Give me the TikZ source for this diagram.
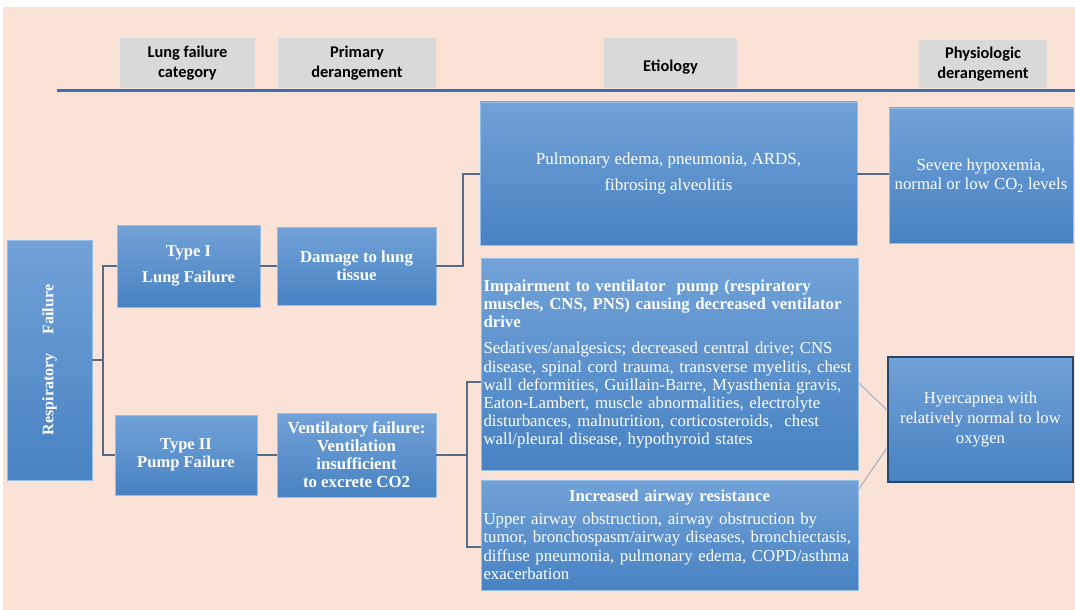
\documentclass[tikz,border=0pt]{standalone}
\usepackage{fontspec}
\setmainfont{Liberation Serif}
\newfontfamily\hdrfont{Carlito}
\usetikzlibrary{shadows}

\definecolor{bgpeach}{RGB}{250,227,214}
\definecolor{hdrgray}{RGB}{217,217,217}
\definecolor{rulecol}{RGB}{61,112,178}
\definecolor{boxtop}{RGB}{113,162,216}
\definecolor{boxbot}{RGB}{72,130,194}
\definecolor{boxedge}{RGB}{150,190,230}
\definecolor{darkedge}{RGB}{40,70,108}
\definecolor{linkcol}{RGB}{84,108,138}
\definecolor{faint}{RGB}{165,178,196}

\tikzset{
  hdr/.style={fill=hdrgray, align=center, inner sep=0pt,
              font=\hdrfont\bfseries\fontsize{12.3}{15}\selectfont},
  bbox/.style={draw=boxedge, line width=0.6pt, top color=boxtop, bottom color=boxbot,
               text=white, align=center, inner sep=2pt,
               drop shadow={opacity=0.25, shadow xshift=1pt, shadow yshift=-1pt},
               font=\bfseries\fontsize{12.6}{13.5}\selectfont},
  link/.style={draw=linkcol, line width=1.5pt},
  faintlink/.style={draw=faint, line width=0.8pt}
}

\begin{document}
\begin{tikzpicture}[x=0.75pt, y=-0.75pt]
\useasboundingbox (0,0) rectangle (1075,610);
\fill[bgpeach] (3,7) rectangle (1075,610);

% column headings
\node[hdr, minimum width=101.25pt, minimum height=37.5pt] (hcat) at (187.5,63) {Lung failure\\category};
\node[hdr, minimum width=118.5pt, minimum height=37.5pt] (hprim) at (357,63) {Primary\\derangement};
\node[hdr, minimum width=99.75pt, minimum height=37.5pt] (hetio) at (670.5,63) {\mbox{}\\Etiology};
\node[hdr, minimum width=96pt, minimum height=36pt] (hphys) at (983,64) {Physiologic\\derangement};
\fill[rulecol] (57,89) rectangle (1075,92);

\node[bbox, rotate=90, minimum width=180pt, minimum height=63.75pt,
      font=\bfseries\fontsize{12}{14}\selectfont] (resp) at (49.5,360) {Respiratory\hspace{1.2em}Failure};

\node[bbox, minimum width=107.25pt, minimum height=61.5pt,
      font=\bfseries\fontsize{12.4}{19.5}\selectfont] (typeI) at (188.5,266) {Type I\\Lung Failure};
\node[bbox, minimum width=106.5pt, minimum height=60pt,
      font=\bfseries\fontsize{12.4}{13.5}\selectfont] (typeII) at (186,455) {Type II\\Pump Failure};
\node[bbox, minimum width=119.25pt, minimum height=58.5pt] (dmg) at (356.5,266) {Damage to lung\\tissue};
\node[bbox, minimum width=119.25pt, minimum height=63pt] (vent) at (356.5,455)
  {Ventilatory failure:\\Ventilation\\insufficient\\to excrete CO2};

\node[bbox, minimum width=282.75pt, minimum height=107.25pt,
      font=\fontsize{12.75}{19.5}\selectfont] (pulm) at (668.5,173.5)
  {Pulmonary edema, pneumonia, ARDS,\\fibrosing alveolitis};
\node[bbox, minimum width=282.75pt, minimum height=159pt, align=left, text width=279pt,
      font=\fontsize{12.6}{13.6}\selectfont, inner sep=1.5pt] (pump) at (669.5,364)
  {\textbf{Impairment to ventilator\ \ pump (respiratory}\\
   \textbf{muscles, CNS, PNS) causing decreased ventilator}\\
   \textbf{drive}\\[6pt]
   Sedatives/analgesics; decreased central drive; CNS\\
   disease, spinal cord trauma, transverse myelitis, chest\\
   wall deformities, Guillain-Barre, Myasthenia gravis,\\
   Eaton-Lambert, muscle abnormalities, electrolyte\\
   disturbances, malnutrition, corticosteroids,\ \ chest\\
   wall/pleural disease, hypothyroid states};
\node[bbox, minimum width=282.75pt, minimum height=82.5pt, align=left, text width=279pt,
      font=\fontsize{12.6}{13.8}\selectfont, inner sep=1.5pt] (airway) at (669.5,535)
  {\makebox[279pt][c]{\textbf{Increased airway resistance}}\\[3pt]
   Upper airway obstruction, airway obstruction by\\
   tumor, bronchospasm/airway diseases, bronchiectasis,\\
   diffuse pneumonia, pulmonary edema, COPD/asthma\\
   exacerbation};

\node[bbox, minimum width=138pt, minimum height=101.25pt,
      font=\fontsize{12.6}{14.5}\selectfont] (hypox) at (981,175.5)
  {Severe hypoxemia,\\normal or low CO\textsubscript{2} levels};
\node[bbox, draw=darkedge, line width=1.2pt, minimum width=138.75pt, minimum height=93.75pt,
      font=\fontsize{12.5}{15}\selectfont] (hyper) at (980.5,419.5)
  {Hyercapnea with\\relatively normal to low\\oxygen};

% connectors
\coordinate (j1) at (103,360);
\coordinate (j2) at (467,455);
\draw[link] (resp.south) -- (j1);
\draw[link] (typeI.west) -| (j1) |- (typeII.west);
\draw[link] (typeI) -- (dmg);
\draw[link] (typeII) -- (vent);
\draw[link] (dmg.east) -- ++(27,0) |- (pulm.west);
\draw[link] (pulm.east) -- (pulm.east -| hypox.west);
\draw[link] (vent.east) -- (j2);
\draw[link] ([yshift=-13.5pt]pump.west) -| (j2) |- ([yshift=-9pt]airway.west);
\draw[faintlink] ([yshift=-14pt]pump.east) -- ([yshift=7pt]hyper.west);
\draw[faintlink] ([yshift=-7.5pt]airway.north east) -- ([yshift=-21pt]hyper.west);
\end{tikzpicture}
\end{document}
